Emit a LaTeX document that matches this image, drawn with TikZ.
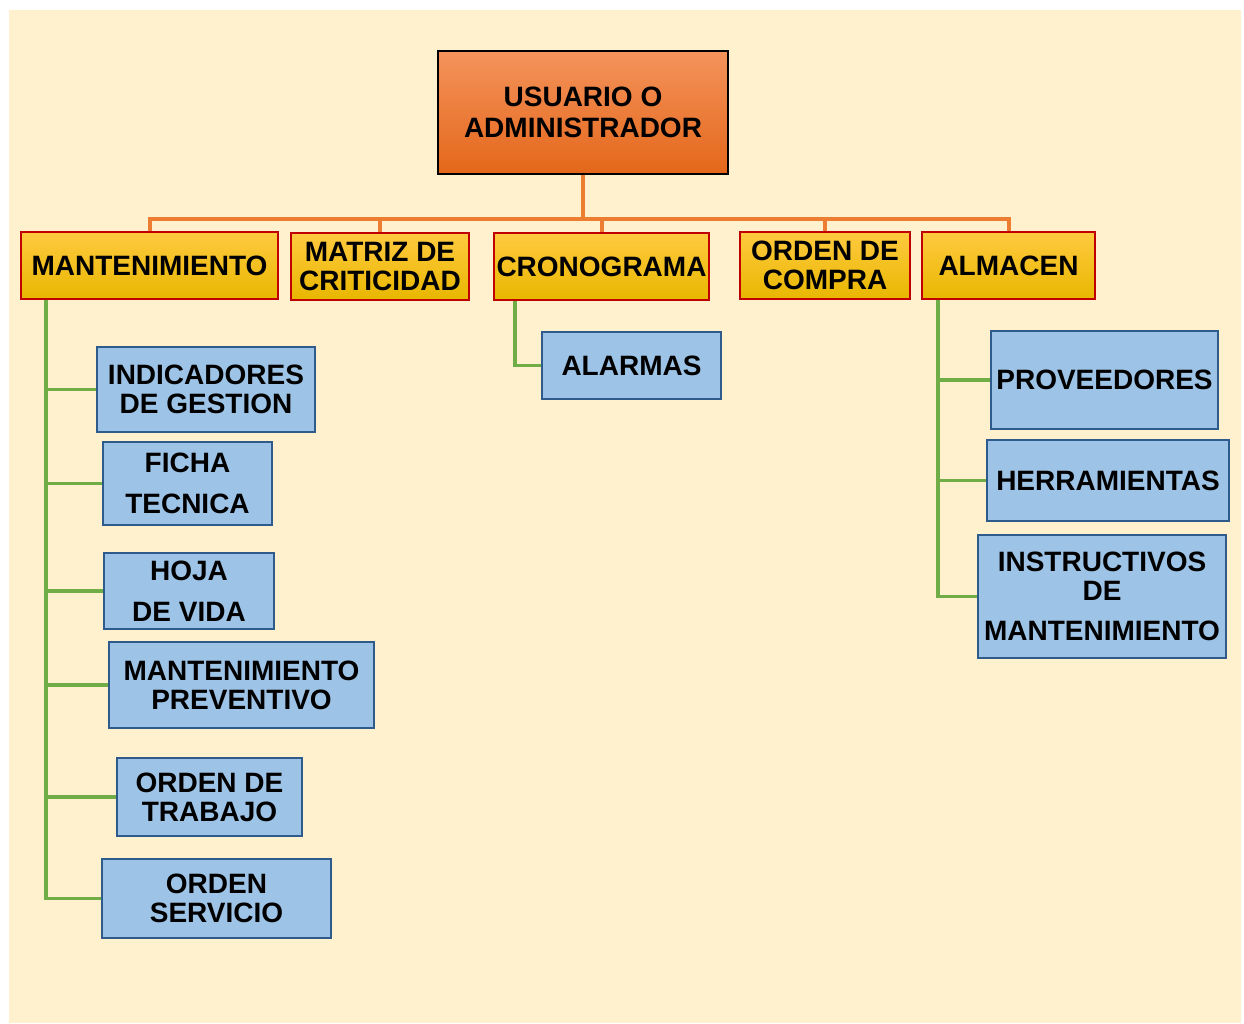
\documentclass[tikz,border=0pt]{standalone}
\usepackage{fontspec}
\setmainfont{Liberation Sans}
\usetikzlibrary{calc}
\definecolor{bgcol}{HTML}{FFF1CE}
\definecolor{orline}{HTML}{ED7D31}
\definecolor{ortop}{HTML}{F4935C}
\definecolor{orbot}{HTML}{E4671A}
\definecolor{yetop}{HTML}{FFCA40}
\definecolor{yemid}{HTML}{FFC400}
\definecolor{yebot}{HTML}{E8B700}
\definecolor{redline}{HTML}{C00000}
\definecolor{bluefill}{HTML}{9DC3E6}
\definecolor{blueline}{HTML}{2E5B8C}
\definecolor{grline}{HTML}{70AD47}
\tikzset{
  lbl/.style={font=\fontsize{28}{29}\selectfont\bfseries, align=center, inner sep=0pt, text=black},
  rootbox/.style={lbl, draw=black, line width=1.6pt, top color=ortop, bottom color=orbot},
  ybox/.style={lbl, draw=redline, line width=1.6pt, shading=axis, top color=yetop, middle color=yemid, bottom color=yebot},
  bbox/.style={lbl, draw=blueline, line width=1.6pt, fill=bluefill},
  oline/.style={draw=orline, line width=4pt},
  gline/.style={draw=grline, line width=3.8pt, line join=miter},
}
\begin{document}
\begin{tikzpicture}[x=1pt,y=-1pt]
\useasboundingbox (0,0) rectangle (1244,1024);
\fill[white] (0,0) rectangle (1244,1024);
\fill[bgcol] (9,10) rectangle (1241,1023);

% top level
\node[rootbox, minimum width=290, minimum height=123] (root) at (583,112.5) {USUARIO O\\[2pt]ADMINISTRADOR};

% second level
\node[ybox, minimum width=257, minimum height=67] (mant) at (149.5,265.5) {MANTENIMIENTO};
\node[ybox, minimum width=178, minimum height=67] (matriz) at (380,266.5) {MATRIZ DE\\CRITICIDAD};
\node[ybox, minimum width=215, minimum height=67] (crono) at (601.5,266.5) {CRONOGRAMA};
\node[ybox, minimum width=170, minimum height=67] (compra) at (825,265.5) {ORDEN DE\\COMPRA};
\node[ybox, minimum width=173, minimum height=67] (almacen) at (1008.5,265.5) {ALMACEN};

% bus between levels
\coordinate (bus) at (583,219);
\draw[oline] (root.south) -- (bus);
\foreach \n in {mant,matriz,crono,compra,almacen}
  \draw[oline] (\n.north) |- (bus);

% MANTENIMIENTO branch
\node[bbox, minimum width=218, minimum height=85] (ind) at (206,389.5) {INDICADORES\\DE GESTION};
\node[bbox, minimum width=169, minimum height=83] (ficha) at (187.5,483.5) {FICHA\\[12pt]TECNICA};
\node[bbox, minimum width=170, minimum height=76] (hoja) at (189,591) {HOJA\\[12pt]DE VIDA};
\node[bbox, minimum width=265, minimum height=86] (prev) at (241.5,685) {MANTENIMIENTO\\PREVENTIVO};
\node[bbox, minimum width=185, minimum height=78] (trab) at (209.5,797) {ORDEN DE\\TRABAJO};
\node[bbox, minimum width=229, minimum height=79] (serv) at (216.5,898.5) {ORDEN\\SERVICIO};
\coordinate (mtrunk) at ($(mant.south west)+(26,0)$);
\foreach \n in {ind,ficha,hoja,prev,trab,serv}
  \draw[gline] (mtrunk) |- (\n.west);

% CRONOGRAMA branch
\node[bbox, minimum width=179, minimum height=67] (alarm) at (631.5,365.5) {ALARMAS};
\coordinate (ctrunk) at ($(crono.south west)+(22,0)$);
\draw[gline] (ctrunk) |- (alarm.west);

% ALMACEN branch
\node[bbox, minimum width=227, minimum height=98] (prov) at (1104.5,380) {PROVEEDORES};
\node[bbox, minimum width=242, minimum height=81] (herr) at (1108,480.5) {HERRAMIENTAS};
\node[bbox, minimum width=248, minimum height=123] (instr) at (1102,596.5) {INSTRUCTIVOS\\DE\\[11pt]MANTENIMIENTO};
\coordinate (atrunk) at ($(almacen.south west)+(17,0)$);
\foreach \n in {prov,herr,instr}
  \draw[gline] (atrunk) |- (\n.west);
\end{tikzpicture}
\end{document}
